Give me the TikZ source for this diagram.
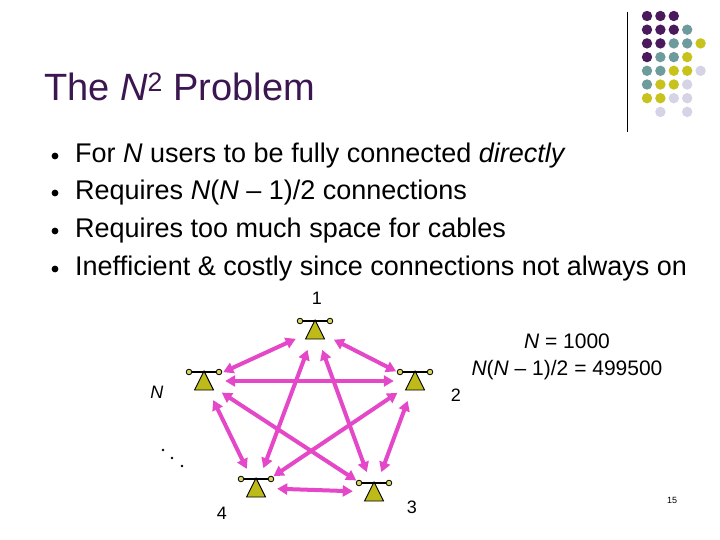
\documentclass[tikz,border=0pt]{standalone}
\usepackage{fontspec}
\setmainfont{Liberation Sans}
\usetikzlibrary{arrows.meta}
\definecolor{dp}{HTML}{4A1A5C}
\definecolor{dt}{HTML}{6E9C9C}
\definecolor{dy}{HTML}{C8C21C}
\definecolor{dl}{HTML}{D4D4E6}
\definecolor{mag}{HTML}{E448C8}
\definecolor{titlec}{HTML}{3B1650}
\definecolor{tri}{HTML}{BDBA1A}
\tikzset{
  phone/.style={circle,minimum size=40pt,inner sep=0pt},
  link/.style={mag,line width=4pt,{Triangle[length=10pt,width=11pt]}-{Triangle[length=10pt,width=11pt]},shorten <=1pt,shorten >=1pt},
  lbl/.style={font=\fontsize{18}{21}\selectfont,inner sep=0pt},
  bul/.style={font=\fontsize{27}{31}\selectfont,anchor=west,inner sep=0pt},
  pics/tel/.style={code={
    \fill[tri,draw=black,line width=0.9pt] (-9.5,9)--(9.5,9)--(0,-10)--cycle;
    \draw[black,line width=1.4pt] (-12,-9)--(12,-9);
    \draw[black,fill=dy!70!white,line width=0.8pt] (-15,-9) circle (2.8) (15,-9) circle (2.8);
  }}
}
\begin{document}
\begin{tikzpicture}[x=1pt,y=-1pt]
\useasboundingbox[fill=white] (0,0) rectangle (720,540);
% dot grid
\foreach \r/\c/\col in {0/0/dp,0/1/dp,0/2/dp,1/0/dp,1/1/dp,1/2/dp,1/3/dt,2/0/dp,2/1/dp,2/2/dt,2/3/dt,2/4/dy,3/0/dp,3/1/dt,3/2/dt,3/3/dy,4/0/dt,4/1/dt,4/2/dy,4/3/dy,4/4/dl,5/0/dt,5/1/dy,5/2/dy,5/3/dl,6/0/dy,6/1/dy,6/2/dl,6/3/dl,7/1/dl,7/3/dl}
  \fill[\col] (647+13.4*\c,16+13.7*\r) circle (5.2);
\draw[black,line width=0.8pt] (627,12)--(627,132);
\node[anchor=west,inner sep=0pt,text=titlec,font=\fontsize{38}{44}\selectfont] (title) at (44,87) {The \textit{N}\textsuperscript{2} Problem};
\foreach \y/\t [count=\i] in {156/{For \textit{N} users to be fully connected \textit{directly}},193/{Requires \textit{N}(\textit{N} – 1)/2 connections},231/{Requires too much space for cables},269/{Inefficient \& costly since connections not always on}}{
  \fill[black] (55,\y) circle (3.4);
  \node[bul] (b\i) at (75,\y) {\t};
}
% phones
\node[phone] (p1) at (315,330) {};
\node[phone] (p2) at (415,381) {};
\node[phone] (pN) at (204,381) {};
\node[phone] (p4) at (256,488) {};
\node[phone] (p3) at (374,492) {};
\foreach \p in {p1,p2,pN,p4,p3} \pic at (\p) {tel};
\draw[link] (p1) -- (p2);
\draw[link] (p1) -- (pN);
\draw[link] (p1) -- (p4);
\draw[link] (p1) -- (p3);
\draw[link] (pN) -- (p2);
\draw[link] (pN) -- (p4);
\draw[link] (pN) -- (p3);
\draw[link] (p2) -- (p4);
\draw[link] (p2) -- (p3);
\draw[link] (p4) -- (p3);
\node[lbl] (l1) at (317,298) {1};
\node[lbl] (l2) at (456,395) {2};
\node[lbl] (lN) at (157,392) {\textit{N}};
\node[lbl] (l4) at (222,513) {4};
\node[lbl] (l3) at (412,507) {3};
\node[lbl,font=\fontsize{21}{25}\selectfont] (n1) at (567,341) {\textit{N} = 1000};
\node[lbl,font=\fontsize{21}{25}\selectfont] (n2) at (567,370) {\textit{N}(\textit{N} – 1)/2 = 499500};
\foreach \x/\y [count=\i] in {163/450,172/458,182/466} \fill (\x,\y) circle (1.4);
\node[inner sep=0pt,font=\fontsize{9}{10}\selectfont] (pg) at (672,500) {15};
\end{tikzpicture}
\end{document}
